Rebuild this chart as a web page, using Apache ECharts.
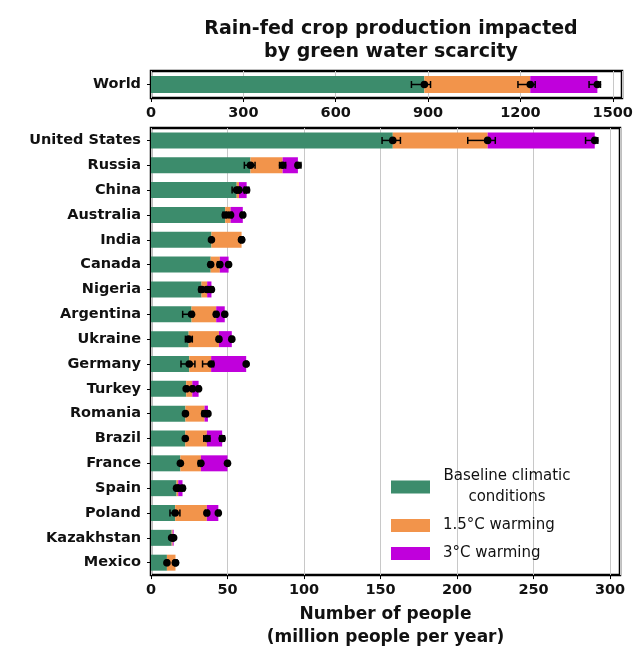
<!DOCTYPE html>
<html>
<head>
<meta charset="utf-8">
<script src="https://cdn.jsdelivr.net/npm/echarts@6/dist/echarts.min.js"></script>
<style>
  html, body { margin: 0; padding: 0; background: #fff; }
  #chart { width: 637px; height: 654px; }
</style>
</head>
<body>
<div id="chart"></div>
<script>
// series names
const seriesNames = ['Baseline climatic conditions', '1.5°C warming', '3°C warming'];

// World (cumulative totals per scenario, with error ranges)
const worldTotals = [888, 1232, 1450];
const worldLo = [846, 1192, 1423];
const worldHi = [908, 1248, 1460];

// countries, top to bottom
const countries = ['United States', 'Russia', 'China', 'Australia', 'India', 'Canada', 'Nigeria',
  'Argentina', 'Ukraine', 'Germany', 'Turkey', 'Romania', 'Brazil', 'France', 'Spain', 'Poland',
  'Kazakhstan', 'Mexico'];

// cumulative totals (million people per year)
const baseTotal = [158, 65, 56, 48.5, 39.5, 39, 33, 26.5, 24.6, 25, 23, 22.5, 22.4, 19.2, 16.7, 15.8, 13.5, 10.4];
const warm15Total = [220, 86, 57.5, 52, 59.2, 45, 36.7, 42.6, 44.4, 39.3, 27, 35, 36.5, 32.6, 17.8, 36.5, 14.2, 16];
const warm3Total = [290, 96, 62.5, 60, 59.2, 50.7, 39.5, 48.2, 52.8, 62.2, 31.1, 37.2, 46.5, 50, 20.6, 44, 14.8, 16];

// error ranges
const baseLo = [151, 61, 53, 47, 39, 38, 31.5, 20.7, 22.5, 19.6, 22.5, 22, 22, 18.8, 16, 12.4, 13, 10];
const baseHi = [163, 68, 58, 49.5, 40, 39.5, 34, 27.5, 27, 28.7, 24, 23, 23, 19.8, 17.5, 18.9, 14, 11];
const warm15Lo = [207, 84, 56, 50.5, 58.5, 43.5, 35.5, 41.5, 43.5, 33.7, 26.5, 33.5, 34.5, 31, 18, 35.5, 13.8, 15.5];
const warm15Hi = [225, 88, 61, 53, 60, 46, 38, 43.5, 45, 40.9, 28, 36.5, 38.5, 33.5, 19.5, 37.2, 14.6, 16.7];
const warm3Lo = [284, 95, 61, 59, 58.5, 50, 39, 47.5, 52, 61.8, 30.5, 36.5, 45, 49.5, 20.5, 43.5, 14.5, 15.5];
const warm3Hi = [292, 98, 64, 61, 60, 51.5, 40.5, 49, 53.5, 62.8, 32, 38, 48, 50.8, 21.8, 45, 15.2, 16.7];

const colors = ['#3c8c6c', '#f2944b', '#c000dc'];
const FONT = 'DejaVu Sans';

function increments(a, b) {
  return a.map((v, i) => +(v - b[i]).toFixed(2));
}

const countryStacks = [baseTotal, increments(warm15Total, baseTotal), increments(warm3Total, warm15Total)];
const worldStacks = [[worldTotals[0]], [worldTotals[1] - worldTotals[0]], [worldTotals[2] - worldTotals[1]]];

const countryErr = [];
[[baseTotal, baseLo, baseHi], [warm15Total, warm15Lo, warm15Hi], [warm3Total, warm3Lo, warm3Hi]].forEach(function (s) {
  s[0].forEach(function (v, i) { countryErr.push([v, s[1][i], s[2][i], i]); });
});
const worldErr = worldTotals.map((v, i) => [v, worldLo[i], worldHi[i], 0]);

function renderErr(params, api) {
  const y = api.value(3);
  const c = api.coord([api.value(0), y]);
  const lo = api.coord([api.value(1), y]);
  const hi = api.coord([api.value(2), y]);
  const st = { stroke: '#000', lineWidth: 1.5 };
  return {
    type: 'group',
    children: [
      { type: 'line', shape: { x1: lo[0], y1: c[1], x2: hi[0], y2: c[1] }, style: st },
      { type: 'line', shape: { x1: lo[0], y1: c[1] - 3.5, x2: lo[0], y2: c[1] + 3.5 }, style: st },
      { type: 'line', shape: { x1: hi[0], y1: c[1] - 3.5, x2: hi[0], y2: c[1] + 3.5 }, style: st },
      { type: 'circle', shape: { cx: c[0], cy: c[1], r: 3.8 }, style: { fill: '#000' } }
    ]
  };
}

const labelStyle = { color: '#111', fontFamily: FONT, fontWeight: 'bold', fontSize: 14.5 };
const gridLine = { show: true, lineStyle: { color: '#c8c8c8', width: 1 } };

const series = [];
seriesNames.forEach(function (name, k) {
  series.push({
    name: name, type: 'bar', stack: 'world', xAxisIndex: 0, yAxisIndex: 0,
    data: worldStacks[k], barWidth: 17, itemStyle: { color: colors[k] }, silent: true
  });
  series.push({
    name: name, type: 'bar', stack: 'country', xAxisIndex: 1, yAxisIndex: 1,
    data: countryStacks[k], barWidth: 16, itemStyle: { color: colors[k] }, silent: true
  });
});
series.push({
  type: 'custom', xAxisIndex: 0, yAxisIndex: 0, data: worldErr, renderItem: renderErr, z: 10,
  encode: { x: [0, 1, 2], y: 3 }, silent: true
});
series.push({
  type: 'custom', xAxisIndex: 1, yAxisIndex: 1, data: countryErr, renderItem: renderErr, z: 10,
  encode: { x: [0, 1, 2], y: 3 }, silent: true
});

const option = {
  animation: false,
  backgroundColor: '#fff',
  title: {
    text: 'Rain-fed crop production impacted\nby green water scarcity',
    left: 386, top: 13, textAlign: 'center',
    textStyle: { fontFamily: FONT, fontWeight: 'bold', fontSize: 19, color: '#111', lineHeight: 23 }
  },
  legend: {
    data: seriesNames, orient: 'vertical', left: 386, top: 464,
    icon: 'rect', itemWidth: 39, itemHeight: 13, itemGap: 13,
    formatter: function (name) {
      if (name === seriesNames[0]) return '{c|Baseline climatic}\n{c|conditions}';
      return '{n|' + name + '}';
    },
    textStyle: {
      fontFamily: FONT, fontSize: 15, color: '#111', padding: [0, 0, 0, 8],
      rich: {
        c: { fontFamily: FONT, fontSize: 15, width: 128, align: 'center', lineHeight: 21, color: '#111' },
        n: { fontFamily: FONT, fontSize: 15, lineHeight: 21, color: '#111' }
      }
    }
  },
  grid: [
    { left: 151, top: 71, width: 471, height: 27, show: true, borderColor: '#000', borderWidth: 2.5, containLabel: false },
    { left: 151, top: 128, width: 469, height: 454, show: true, borderColor: '#000', borderWidth: 2.5, containLabel: false }
  ],
  xAxis: [
    {
      gridIndex: 0, type: 'value', min: 0, max: 1530, interval: 300,
      axisLine: { show: false }, axisTick: { show: true, length: 4, lineStyle: { color: '#000' } },
      axisLabel: Object.assign({ margin: 8, showMaxLabel: false, formatter: (v) => String(v) }, labelStyle),
      splitLine: gridLine
    },
    {
      gridIndex: 1, type: 'value', min: 0, max: 306.5, interval: 50,
      axisLine: { show: false }, axisTick: { show: true, length: 4, lineStyle: { color: '#000' } },
      axisLabel: Object.assign({ margin: 8, showMaxLabel: false, formatter: (v) => String(v) }, labelStyle),
      splitLine: gridLine,
      name: 'Number of people\n(million people per year)', nameLocation: 'middle', nameGap: 22,
      nameTextStyle: { fontFamily: FONT, fontWeight: 'bold', fontSize: 17, color: '#111', lineHeight: 23 }
    }
  ],
  yAxis: [
    {
      gridIndex: 0, type: 'category', data: ['World'],
      axisLine: { show: false }, axisTick: { show: true, length: 4, alignWithLabel: true, lineStyle: { color: '#000' } },
      axisLabel: Object.assign({ margin: 10 }, labelStyle), splitLine: { show: false }
    },
    {
      gridIndex: 1, type: 'category', data: countries, inverse: true,
      axisLine: { show: false }, axisTick: { show: true, length: 4, alignWithLabel: true, lineStyle: { color: '#000' } },
      axisLabel: Object.assign({ margin: 10 }, labelStyle), splitLine: { show: false }
    }
  ],
  series: series
};

const chart = echarts.init(document.getElementById('chart'));
chart.setOption(option);
</script>
</body>
</html>
